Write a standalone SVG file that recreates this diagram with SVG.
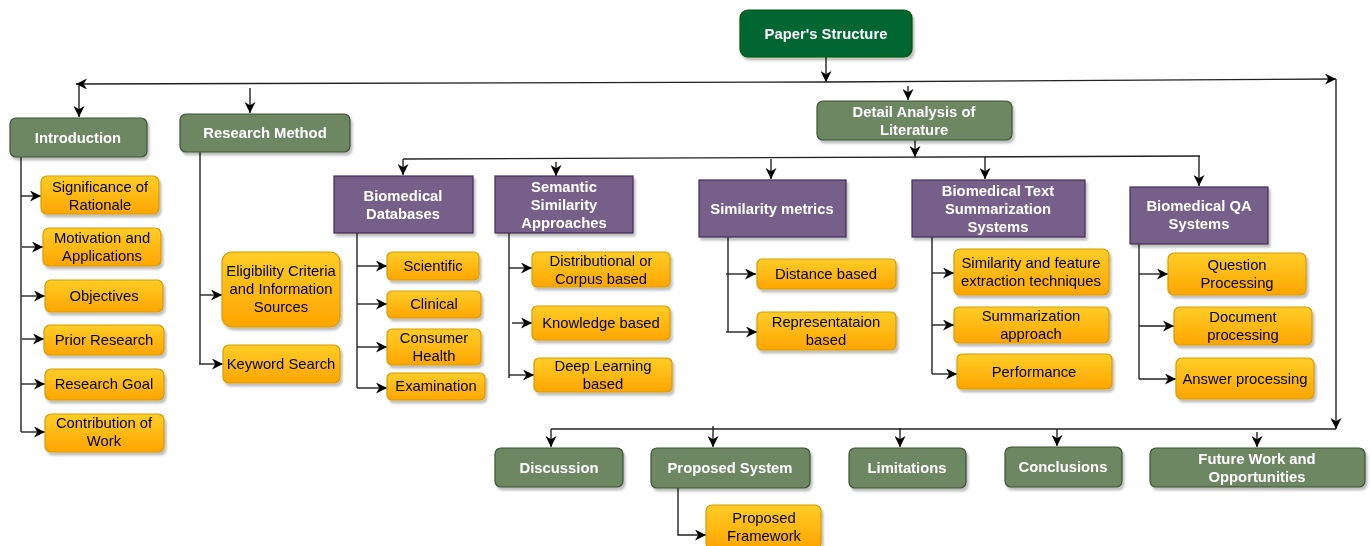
<svg xmlns="http://www.w3.org/2000/svg" width="1370" height="546" viewBox="0 0 1370 546">
<style>
  .g rect{fill:#6d8764;stroke:#3a5431;stroke-width:1.2}
  .p rect{fill:#76608a;stroke:#432d57;stroke-width:1.2}
  .o rect{fill:url(#og);stroke:#d79b00;stroke-width:1.2}
  .root rect{fill:#006633;stroke:#005700;stroke-width:1.2}
  .node{filter:url(#sh)}
  .wt{font-family:"Liberation Sans",Arial,sans-serif;font-size:14.8px;font-weight:bold;fill:#fff;text-anchor:middle}
  .bt{font-family:"Liberation Sans",Arial,sans-serif;font-size:14.8px;fill:#000;text-anchor:middle}
  .c path{fill:none;stroke:#222;stroke-width:1.4}
  .c path.a{marker-end:url(#ar)}
</style>
<defs>
  <linearGradient id="og" x1="0" y1="0" x2="0" y2="1">
    <stop offset="0" stop-color="#ffcd28"/>
    <stop offset="1" stop-color="#ffa500"/>
  </linearGradient>
  <filter id="sh" x="-10%" y="-10%" width="130%" height="140%">
    <feDropShadow dx="2" dy="3" stdDeviation="1" flood-color="#000" flood-opacity="0.25"/>
  </filter>
  <marker id="ar" markerUnits="userSpaceOnUse" markerWidth="12" markerHeight="11" refX="11" refY="5.5" orient="auto">
    <path d="M0,0 L11,5.5 L0,11 L3.3,5.5 Z" fill="#000"/>
  </marker>
</defs>
<rect width="1370" height="546" fill="#fff"/>

<g id="connectors" class="c">
  <path class="a" d="M826,57 L826,82"/>
  <path class="a" d="M826,82 L76,84"/>
  <path class="a" d="M826,82 L1336,79"/>
  <path class="a" d="M1336,79 L1336,429"/>
  <path class="a" d="M79,84 L79,117"/>
  <path class="a" d="M250,88 L250,113"/>
  <path class="a" d="M908,86 L908,100"/>
  <path class="a" d="M915,140 L915,157"/>
  <path d="M403,159 L1200,156"/>
  <path class="a" d="M403,159 L403,175"/>
  <path class="a" d="M556,162 L556,176"/>
  <path class="a" d="M771,159 L771,179"/>
  <path class="a" d="M985,157 L985,179"/>
  <path class="a" d="M1199,156 L1199,186"/>
  <path d="M21,157 L21,432"/>
  <path class="a" d="M21,196 L41,196"/>
  <path class="a" d="M22,247 L43,247"/>
  <path class="a" d="M21,296 L45,296"/>
  <path class="a" d="M22,339 L44,339"/>
  <path class="a" d="M21,384 L45,384"/>
  <path class="a" d="M21,432 L45,432"/>
  <path d="M200,152 L200,364"/>
  <path class="a" d="M200,295 L222,295"/>
  <path class="a" d="M199,364 L223,364"/>
  <path d="M357,233 L357,388"/>
  <path class="a" d="M357,266 L387,266"/>
  <path class="a" d="M357,304 L387,304"/>
  <path class="a" d="M357,347 L387,347"/>
  <path class="a" d="M357,388 L387,388"/>
  <path d="M509,233 L509,378"/>
  <path class="a" d="M509,268 L532,268"/>
  <path class="a" d="M512,323 L532,323"/>
  <path class="a" d="M509,375 L534,375"/>
  <path d="M728,237 L728,332"/>
  <path class="a" d="M726,274 L756,274"/>
  <path class="a" d="M726,332 L757,332"/>
  <path d="M932,237 L932,374"/>
  <path class="a" d="M932,273 L954,273"/>
  <path class="a" d="M932,325 L954,325"/>
  <path class="a" d="M932,374 L957,374"/>
  <path d="M1139,244 L1139,379"/>
  <path class="a" d="M1139,274 L1168,274"/>
  <path class="a" d="M1139,326 L1174,326"/>
  <path class="a" d="M1139,379 L1176,379"/>
  <path d="M551,429 L1336,429"/>
  <path class="a" d="M551,429 L551,447"/>
  <path class="a" d="M713,426 L713,447"/>
  <path class="a" d="M900,428 L900,447"/>
  <path class="a" d="M1057,429 L1057,446"/>
  <path class="a" d="M1257,432 L1257,447"/>
  <path class="a" d="M678,486 L678,535 L706,535"/>
</g>

<g id="n-root" class="node root"><rect x="740" y="10" width="172" height="47" rx="8"/><text class="wt" x="826" y="39">Paper's Structure</text></g>

<g id="n-intro" class="node g"><rect x="10" y="118" width="137" height="39" rx="6"/><text class="wt" x="78" y="143">Introduction</text></g>
<g id="n-research" class="node g"><rect x="180" y="114" width="170" height="38" rx="6"/><text class="wt" x="265" y="138">Research Method</text></g>
<g id="n-detail" class="node g"><rect x="817" y="101" width="195" height="39" rx="6"/><text class="wt" x="914" y="117">Detail Analysis of</text><text class="wt" x="914" y="135">Literature</text></g>

<g id="n-biodb" class="node p"><rect x="334" y="176" width="139" height="57"/><text class="wt" x="403" y="201">Biomedical</text><text class="wt" x="403" y="219">Databases</text></g>
<g id="n-semantic" class="node p"><rect x="495" y="176" width="138" height="57"/><text class="wt" x="564" y="192">Semantic</text><text class="wt" x="564" y="210">Similarity</text><text class="wt" x="564" y="228">Approaches</text></g>
<g id="n-simmet" class="node p"><rect x="699" y="180" width="147" height="57"/><text class="wt" x="772" y="214">Similarity metrics</text></g>
<g id="n-textsum" class="node p"><rect x="912" y="180" width="173" height="57"/><text class="wt" x="998" y="196">Biomedical Text</text><text class="wt" x="998" y="214">Summarization</text><text class="wt" x="998" y="232">Systems</text></g>
<g id="n-qa" class="node p"><rect x="1130" y="187" width="138" height="57"/><text class="wt" x="1199" y="211">Biomedical QA</text><text class="wt" x="1199" y="229">Systems</text></g>

<g id="n-signif" class="node o"><rect x="41" y="176" width="118" height="38" rx="6"/><text class="bt" x="100" y="192">Significance of</text><text class="bt" x="100" y="210">Rationale</text></g>
<g id="n-motiv" class="node o"><rect x="43" y="228" width="118" height="38" rx="6"/><text class="bt" x="102" y="243">Motivation and</text><text class="bt" x="102" y="261">Applications</text></g>
<g id="n-obj" class="node o"><rect x="45" y="280" width="118" height="32" rx="6"/><text class="bt" x="104" y="301">Objectives</text></g>
<g id="n-prior" class="node o"><rect x="44" y="325" width="120" height="30" rx="6"/><text class="bt" x="104" y="345">Prior Research</text></g>
<g id="n-goal" class="node o"><rect x="45" y="369" width="119" height="31" rx="6"/><text class="bt" x="104" y="389">Research Goal</text></g>
<g id="n-contrib" class="node o"><rect x="45" y="414" width="119" height="38" rx="6"/><text class="bt" x="104" y="428">Contribution of</text><text class="bt" x="104" y="446">Work</text></g>

<g id="n-elig" class="node o"><rect x="222" y="252" width="118" height="75" rx="10"/><text class="bt" x="281" y="276">Eligibility Criteria</text><text class="bt" x="281" y="294">and Information</text><text class="bt" x="281" y="312">Sources</text></g>
<g id="n-keyword" class="node o"><rect x="223" y="345" width="117" height="38" rx="6"/><text class="bt" x="281" y="369">Keyword Search</text></g>

<g id="n-scientific" class="node o"><rect x="387" y="252" width="92" height="28" rx="5"/><text class="bt" x="433" y="271">Scientific</text></g>
<g id="n-clinical" class="node o"><rect x="387" y="291" width="94" height="27" rx="5"/><text class="bt" x="434" y="309">Clinical</text></g>
<g id="n-consumer" class="node o"><rect x="387" y="329" width="94" height="36" rx="5"/><text class="bt" x="434" y="343">Consumer</text><text class="bt" x="434" y="361">Health</text></g>
<g id="n-exam" class="node o"><rect x="387" y="373" width="98" height="27" rx="5"/><text class="bt" x="436" y="391">Examination</text></g>

<g id="n-distrib" class="node o"><rect x="532" y="252" width="138" height="35" rx="5"/><text class="bt" x="601" y="266">Distributional or</text><text class="bt" x="601" y="284">Corpus based</text></g>
<g id="n-knowledge" class="node o"><rect x="532" y="306" width="138" height="34" rx="5"/><text class="bt" x="601" y="328">Knowledge based</text></g>
<g id="n-deep" class="node o"><rect x="534" y="358" width="138" height="34" rx="5"/><text class="bt" x="603" y="371">Deep Learning</text><text class="bt" x="603" y="389">based</text></g>

<g id="n-distance" class="node o"><rect x="757" y="259" width="139" height="30" rx="5"/><text class="bt" x="826" y="279">Distance based</text></g>
<g id="n-repres" class="node o"><rect x="757" y="312" width="139" height="38" rx="5"/><text class="bt" x="826" y="327">Representataion</text><text class="bt" x="826" y="345">based</text></g>

<g id="n-simfeat" class="node o"><rect x="954" y="249" width="155" height="46" rx="6"/><text class="bt" x="1031" y="268">Similarity and feature</text><text class="bt" x="1031" y="286">extraction techniques</text></g>
<g id="n-sumappr" class="node o"><rect x="954" y="307" width="155" height="36" rx="5"/><text class="bt" x="1031" y="321">Summarization</text><text class="bt" x="1031" y="339">approach</text></g>
<g id="n-perf" class="node o"><rect x="957" y="354" width="155" height="35" rx="5"/><text class="bt" x="1034" y="377">Performance</text></g>

<g id="n-question" class="node o"><rect x="1168" y="253" width="138" height="42" rx="6"/><text class="bt" x="1237" y="270">Question</text><text class="bt" x="1237" y="288">Processing</text></g>
<g id="n-document" class="node o"><rect x="1174" y="307" width="138" height="38" rx="6"/><text class="bt" x="1243" y="322">Document</text><text class="bt" x="1243" y="340">processing</text></g>
<g id="n-answer" class="node o"><rect x="1176" y="358" width="138" height="41" rx="6"/><text class="bt" x="1245" y="384">Answer processing</text></g>

<g id="n-discussion" class="node g"><rect x="495" y="448" width="128" height="39" rx="6"/><text class="wt" x="559" y="473">Discussion</text></g>
<g id="n-proposed" class="node g"><rect x="651" y="448" width="159" height="40" rx="6"/><text class="wt" x="730" y="473">Proposed System</text></g>
<g id="n-limit" class="node g"><rect x="849" y="448" width="117" height="40" rx="6"/><text class="wt" x="907" y="473">Limitations</text></g>
<g id="n-concl" class="node g"><rect x="1005" y="447" width="117" height="40" rx="6"/><text class="wt" x="1063" y="472">Conclusions</text></g>
<g id="n-future" class="node g"><rect x="1150" y="448" width="215" height="39" rx="6"/><text class="wt" x="1257" y="464">Future Work and</text><text class="wt" x="1257" y="482">Opportunities</text></g>
<g id="n-framework" class="node o"><rect x="706" y="505" width="115" height="44" rx="6"/><text class="bt" x="764" y="523">Proposed</text><text class="bt" x="764" y="541">Framework</text></g>
</svg>
